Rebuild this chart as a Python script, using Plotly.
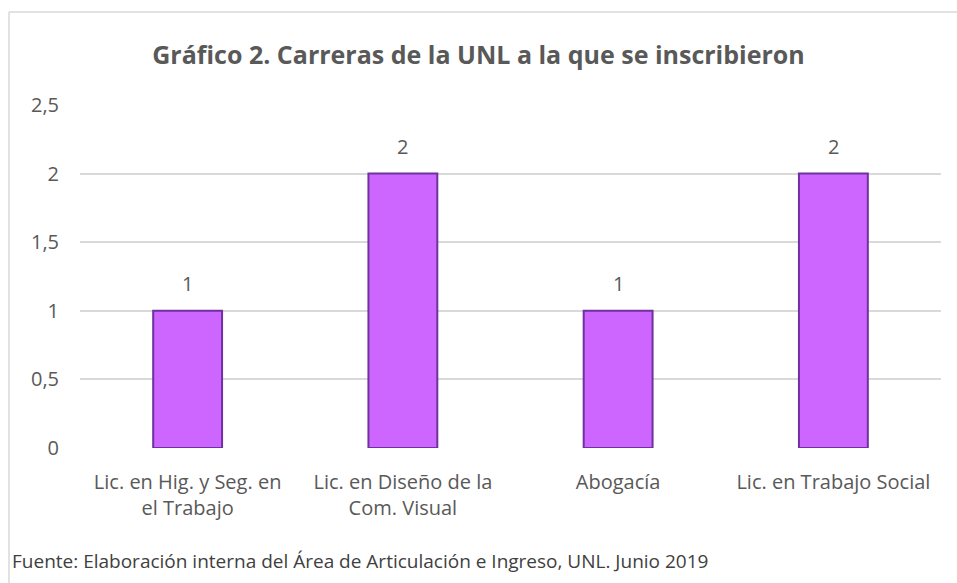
import plotly.graph_objects as go

categories = ["Lic. en Hig. y Seg. en<br>el Trabajo", "Lic. en Diseño de la<br>Com. Visual", "Abogacía", "Lic. en Trabajo Social"]
values = [1, 2, 1, 2]
y_ticks = [0, 0.5, 1, 1.5, 2, 2.5]
y_tick_labels = ["0", "0,5", "1", "1,5", "2", "2,5"]

W, H = 957, 583
ML, MR, MT, MB = 80, 16, 105, 135
PW = W - ML - MR
PH = H - MT - MB

def px_x(p):
    return (p - ML) / PW

def px_y(p):
    return (H - MB - p) / PH

FONT = "Open Sans"
GRAY = "#595959"

fig = go.Figure(go.Bar(
    x=categories, y=values,
    marker=dict(color="#CC66FF", line=dict(color="#7030A0", width=2)),
    width=0.32,
    hoverinfo="x+y",
))

# data labels above the bars
for c, v in zip(categories, values):
    fig.add_annotation(x=c, y=v, text=str(v), showarrow=False,
                       xref="x", yref="y", yanchor="middle", yshift=27,
                       font=dict(family=FONT, size=20, color=GRAY))

fig.update_layout(
    width=W, height=H,
    margin=dict(l=ML, r=MR, t=MT, b=MB),
    paper_bgcolor="white", plot_bgcolor="white",
    showlegend=False,
    title=dict(text="<b>Gráfico 2. Carreras de la UNL a la que se inscribieron</b>",
               x=0.5, xref="container", xanchor="center",
               y=1 - 55 / H, yref="container", yanchor="middle",
               font=dict(family=FONT, size=25, color=GRAY)),
    font=dict(family=FONT, size=18, color=GRAY),
    bargap=0.68,
)
fig.update_yaxes(range=[0, 2.5], tickvals=y_ticks, ticktext=y_tick_labels,
                 showgrid=True, gridcolor="#D9D9D9", gridwidth=1.5,
                 zeroline=False, showline=False, ticks="", ticklen=0,
                 ticklabelstandoff=20,
                 tickfont=dict(family=FONT, size=20, color=GRAY))
fig.update_xaxes(showline=False, showgrid=False, ticks="",
                 ticklabelstandoff=20,
                 tickfont=dict(family=FONT, size=20, color=GRAY))

# chart border (top and left)
fig.add_shape(type="line", xref="paper", yref="paper",
              x0=px_x(9), x1=px_x(W), y0=px_y(12), y1=px_y(12),
              line=dict(color="#D9D9D9", width=1.5))
fig.add_shape(type="line", xref="paper", yref="paper",
              x0=px_x(9), x1=px_x(9), y0=px_y(12), y1=px_y(H),
              line=dict(color="#D9D9D9", width=1.5))

fig.add_annotation(text="Fuente: Elaboración interna del Área de Articulación e Ingreso, UNL. Junio 2019",
                   xref="paper", yref="paper", x=px_x(10), y=px_y(561),
                   xanchor="left", yanchor="middle", showarrow=False,
                   font=dict(family=FONT, size=19, color="#404040"))

fig.write_html("out.html", config={"displayModeBar": False},
               post_script="document.body.style.margin='0';")
